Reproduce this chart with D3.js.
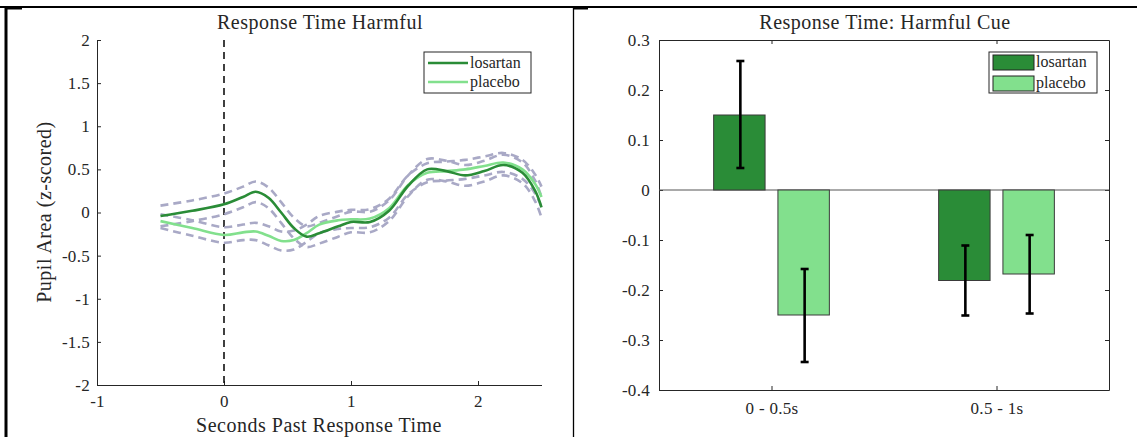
<!DOCTYPE html>
<html>
<head>
<meta charset="utf-8">
<script src="https://cdn.jsdelivr.net/npm/d3@7"></script>
<style>
  html, body { margin: 0; padding: 0; background: #fff; }
  svg { display: block; }
  text { font-family: "Liberation Serif", "Times New Roman", serif; fill: #262626; }
</style>
</head>
<body>
<svg id="fig" width="1137" height="437"></svg>
<script>
// ---- Pupil time course (seconds past response time) ----
const timePoints = [-0.5, -0.25, 0, 0.15, 0.25, 0.35, 0.45, 0.55, 0.65, 0.75, 0.9, 1.0, 1.15, 1.3, 1.45, 1.6, 1.75, 1.9, 2.05, 2.2, 2.35, 2.45, 2.5];
const losartanMean  = [-0.04, 0.02, 0.095, 0.18, 0.24, 0.17, 0.0, -0.18, -0.28, -0.24, -0.16, -0.11, -0.11, 0.02, 0.31, 0.50, 0.48, 0.43, 0.48, 0.55, 0.46, 0.25, 0.06];
const losartanUpper = [0.08, 0.14, 0.22, 0.30, 0.36, 0.29, 0.12, -0.06, -0.16, -0.12, -0.04, 0.01, 0.01, 0.14, 0.43, 0.62, 0.60, 0.55, 0.60, 0.67, 0.58, 0.37, 0.18];
const losartanLower = [-0.16, -0.10, -0.02, 0.06, 0.12, 0.05, -0.12, -0.30, -0.40, -0.36, -0.28, -0.23, -0.23, -0.10, 0.19, 0.38, 0.36, 0.31, 0.36, 0.43, 0.34, 0.13, -0.06];
const placeboMean   = [-0.10, -0.18, -0.26, -0.23, -0.22, -0.27, -0.33, -0.32, -0.24, -0.14, -0.09, -0.08, -0.07, 0.05, 0.32, 0.46, 0.48, 0.50, 0.54, 0.58, 0.50, 0.33, 0.18];
const placeboUpper  = [-0.02, -0.09, -0.17, -0.14, -0.12, -0.16, -0.22, -0.21, -0.14, -0.04, 0.01, 0.03, 0.04, 0.16, 0.43, 0.57, 0.59, 0.61, 0.65, 0.69, 0.61, 0.44, 0.30];
const placeboLower  = [-0.18, -0.27, -0.35, -0.32, -0.32, -0.38, -0.44, -0.43, -0.34, -0.24, -0.19, -0.18, -0.17, -0.06, 0.21, 0.35, 0.37, 0.39, 0.43, 0.47, 0.39, 0.22, 0.06];
const timeTicks  = [-1, 0, 1, 2];
const pupilTicks = [-2, -1.5, -1, -0.5, 0, 0.5, 1, 1.5, 2];

// ---- Mean pupil response per window ----
const windows        = ["0 - 0.5s", "0.5 - 1s"];
const groups         = ["losartan", "placebo"];
const losartanBars   = [0.15, -0.181];
const losartanErrLo  = [0.044, -0.251];
const losartanErrHi  = [0.258, -0.111];
const placeboBars    = [-0.25, -0.168];
const placeboErrLo   = [-0.344, -0.247];
const placeboErrHi   = [-0.158, -0.090];
const barTicks       = [-0.4, -0.3, -0.2, -0.1, 0, 0.1, 0.2, 0.3];

const darkGreen = "#2a8c37";
const lightGreen = "#82e08d";
const bandColor = "#a9a9c6";
const axisColor = "#262626";
const tickFont = "17px";
const labelFont = "20px";

const svg = d3.select("#fig");
svg.append("rect").attr("width", 1137).attr("height", 437).attr("fill", "#fff");

// ---- surrounding table rules ----
const rules = svg.append("g").attr("stroke", "#000");
rules.append("line").attr("x1", 0).attr("x2", 1137).attr("y1", 7).attr("y2", 7).attr("stroke-width", 2);
rules.append("line").attr("x1", 6).attr("x2", 6).attr("y1", 7).attr("y2", 437).attr("stroke-width", 3);
rules.append("line").attr("x1", 573.5).attr("x2", 573.5).attr("y1", 7).attr("y2", 437).attr("stroke-width", 1.3);
rules.append("line").attr("x1", 573).attr("x2", 588).attr("y1", 8.5).attr("y2", 8.5).attr("stroke-width", 2);
rules.append("line").attr("x1", 6).attr("x2", 22).attr("y1", 8.5).attr("y2", 8.5).attr("stroke-width", 2);

function styleAxis(g) {
  g.selectAll("path.domain").attr("stroke", axisColor);
  g.selectAll(".tick line").attr("stroke", axisColor);
  g.selectAll(".tick text").attr("fill", axisColor).style("font-size", tickFont)
    .style("letter-spacing", "0.3px")
    .style("font-family", '"Liberation Serif", serif');
}

function heading(g, x, y, txt, rotate) {
  const t = g.append("text").attr("text-anchor", "middle")
    .style("font-size", labelFont).style("letter-spacing", "0.5px").attr("fill", "#000").text(txt);
  if (rotate) t.attr("transform", `translate(${x},${y}) rotate(-90)`);
  else t.attr("x", x).attr("y", y);
  return t;
}

// =================== Left panel: time course ===================
const xL = d3.scaleLinear().domain([-1, 2.5]).range([97, 541.5]);
const yL = d3.scaleLinear().domain([-2, 2]).range([385, 40]);
const left = svg.append("g");

left.append("g").attr("transform", `translate(${xL(-1)},0)`)
  .call(d3.axisLeft(yL).tickValues(pupilTicks).tickSize(-4).tickSizeOuter(0).tickPadding(7).tickFormat(d => String(d)))
  .call(styleAxis);
left.append("g").attr("transform", `translate(0,${yL(-2)})`)
  .call(d3.axisBottom(xL).tickValues(timeTicks).tickSize(-4).tickSizeOuter(0).tickPadding(10).tickFormat(d => String(d)))
  .call(styleAxis);

// response onset marker
left.append("line")
  .attr("x1", xL(0)).attr("x2", xL(0)).attr("y1", yL(2)).attr("y2", yL(-2))
  .attr("stroke", "#111").attr("stroke-width", 1.6).attr("stroke-dasharray", "7,5");

const lineGen = vals => d3.line()
  .x((d, i) => xL(timePoints[i]))
  .y(d => yL(d))
  .curve(d3.curveCatmullRom.alpha(0.5))(vals);

[losartanUpper, losartanLower, placeboUpper, placeboLower].forEach(v => {
  left.append("path").attr("d", lineGen(v)).attr("fill", "none")
    .attr("stroke", bandColor).attr("stroke-width", 2.6).attr("stroke-dasharray", "8,5");
});
left.append("path").attr("d", lineGen(placeboMean)).attr("fill", "none")
  .attr("stroke", lightGreen).attr("stroke-width", 2.6);
left.append("path").attr("d", lineGen(losartanMean)).attr("fill", "none")
  .attr("stroke", darkGreen).attr("stroke-width", 2.6);

heading(left, 320, 29, "Response Time Harmful");
heading(left, 319, 432, "Seconds Past Response Time");
heading(left, 51, 212, "Pupil Area (z-scored)", true);

// legend
const legL = left.append("g").attr("transform", "translate(424,52)");
legL.append("rect").attr("width", 107).attr("height", 41).attr("fill", "#fff").attr("stroke", axisColor).attr("stroke-width", 1);
[darkGreen, lightGreen].forEach((c, i) => {
  const yy = 11 + i * 19;
  legL.append("line").attr("x1", 4).attr("x2", 44).attr("y1", yy).attr("y2", yy).attr("stroke", c).attr("stroke-width", 2.6);
  legL.append("text").attr("x", 46).attr("y", yy + 5).style("font-size", "16px").attr("fill", "#000").text(groups[i]);
});

// =================== Right panel: bar chart ===================
const xR = d3.scaleLinear().domain([0.5, 2.5]).range([659, 1109]);
const yR = d3.scaleLinear().domain([-0.4, 0.3]).range([390, 40]);
const right = svg.append("g");
const fmtBar = d => d === 0 ? "0" : d3.format(".1f")(d).replace("−", "-");

right.append("g").attr("transform", `translate(${xR(0.5)},0)`)
  .call(d3.axisLeft(yR).tickValues(barTicks).tickSize(-4).tickSizeOuter(0).tickPadding(9).tickFormat(fmtBar))
  .call(styleAxis);
right.append("g").attr("transform", `translate(${xR(2.5)},0)`)
  .call(d3.axisRight(yR).tickValues(barTicks).tickSize(-4).tickSizeOuter(0).tickFormat(""))
  .call(styleAxis);
right.append("g").attr("transform", `translate(0,${yR(-0.4)})`)
  .call(d3.axisBottom(xR).tickValues([1, 2]).tickSize(-4).tickSizeOuter(0).tickPadding(12).tickFormat(d => windows[d - 1]))
  .call(styleAxis);
right.append("g").attr("transform", `translate(0,${yR(0.3)})`)
  .call(d3.axisTop(xR).tickValues([1, 2]).tickSize(-4).tickSizeOuter(0).tickFormat(""))
  .call(styleAxis);

// grouped bars: group width 4/7 of a category, each bar 80% of its slot
const groupWidth = 4 / 7;
const slot = groupWidth / 2;
const barW = xR(0.5 + slot * 0.8) - xR(0.5);
const series = [
  { vals: losartanBars, lo: losartanErrLo, hi: losartanErrHi, color: darkGreen, offset: -slot / 2 },
  { vals: placeboBars,  lo: placeboErrLo,  hi: placeboErrHi,  color: lightGreen, offset: slot / 2 }
];

// baseline at zero
right.append("line").attr("x1", xR(0.5)).attr("x2", xR(2.5)).attr("y1", yR(0)).attr("y2", yR(0))
  .attr("stroke", "#555").attr("stroke-width", 1);

series.forEach(s => {
  s.vals.forEach((v, i) => {
    const cx = xR(i + 1 + s.offset);
    right.append("rect")
      .attr("x", cx - barW / 2).attr("width", barW)
      .attr("y", yR(Math.max(0, v))).attr("height", Math.abs(yR(v) - yR(0)))
      .attr("fill", s.color).attr("stroke", "#3a3a3a").attr("stroke-width", 1);
  });
});
series.forEach(s => {
  s.vals.forEach((v, i) => {
    const cx = xR(i + 1 + s.offset) + 1;
    const g = right.append("g").attr("stroke", "#000").attr("stroke-width", 2.6);
    g.append("line").attr("x1", cx).attr("x2", cx).attr("y1", yR(s.lo[i])).attr("y2", yR(s.hi[i]));
    g.append("line").attr("x1", cx - 4).attr("x2", cx + 4).attr("y1", yR(s.lo[i])).attr("y2", yR(s.lo[i]));
    g.append("line").attr("x1", cx - 4).attr("x2", cx + 4).attr("y1", yR(s.hi[i])).attr("y2", yR(s.hi[i]));
  });
});

heading(right, 885, 29, "Response Time: Harmful Cue");

const legR = right.append("g").attr("transform", "translate(989,52)");
legR.append("rect").attr("width", 108).attr("height", 41).attr("fill", "#fff").attr("stroke", axisColor).attr("stroke-width", 1);
[darkGreen, lightGreen].forEach((c, i) => {
  const yy = 3 + i * 21;
  legR.append("rect").attr("x", 4).attr("y", yy).attr("width", 41).attr("height", 15)
    .attr("fill", c).attr("stroke", "#222").attr("stroke-width", 1);
  legR.append("text").attr("x", 47).attr("y", yy + 12).style("font-size", "16px").attr("fill", "#000").text(groups[i]);
});
</script>
</body>
</html>
